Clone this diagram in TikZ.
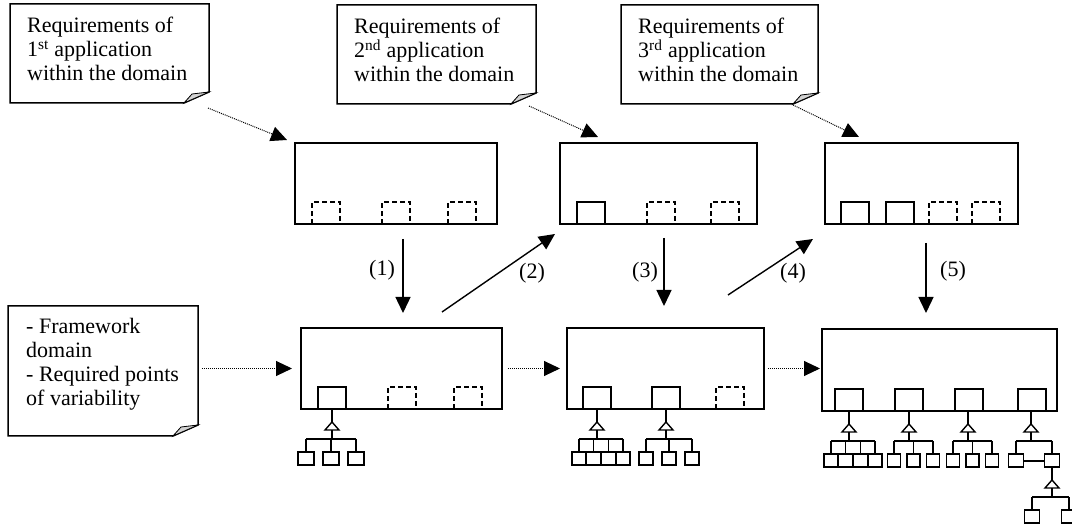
\documentclass[tikz,border=0pt]{standalone}
\usepackage{fontspec}
\setmainfont{Liberation Serif}
\usetikzlibrary{arrows.meta,positioning,calc}

\tikzset{
  notebox/.style={draw=none, anchor=north west, inner sep=0pt, outer sep=0pt},
  notetext/.style={anchor=north west, inner sep=0pt, align=left},
  noteline/.style={line width=1.5pt, line join=miter},
  stagebox/.style={draw, line width=1.7pt, anchor=north west, inner sep=0pt, outer sep=0pt},
  slotbox/.style={draw, line width=1.5pt},
  openslot/.style={slotbox, dash pattern=on 5pt off 3pt},
  treeline/.style={line width=1.4pt},
  flow/.style={-{Triangle[length=16pt,width=15pt]}, line width=1.4pt},
  feed/.style={flow, line width=1pt, dash pattern=on 1pt off 1pt},
  steplabel/.style={inner sep=0pt}
}

\begin{document}
\begin{tikzpicture}[x=1pt, y=-1pt, font=\fontsize{22}{24}\selectfont]
  \useasboundingbox (0,0) rectangle (1072,526);

  % notes
  \node[notebox, minimum width=199pt, minimum height=99pt] (r1) at (10,4) {};
  \node[notebox, minimum width=199pt, minimum height=99pt] (r2) at (337,5) {};
  \node[notebox, minimum width=197pt, minimum height=99pt] (r3) at (621,5) {};
  \node[notebox, minimum width=190pt, minimum height=130pt] (fw) at (8,306) {};
  \foreach \n in {r1,r2,r3,fw} {
    \draw[noteline] (\n.north west) -- (\n.north east) -- ([yshift=11pt]\n.south east)
      -- ([xshift=-25pt]\n.south east) -- (\n.south west) -- cycle;
    \draw[line width=0.8pt, fill=gray!35] ([xshift=-25pt]\n.south east)
      -- ([shift={(-17,-9)}]\n.south east) -- ([yshift=11pt]\n.south east) -- cycle;
  }
  \node[notetext] (r1t) at ([shift={(17,13)}]r1.north west)
    {Requirements of\\1\textsuperscript{st} application\\within the domain};
  \node[notetext] (r2t) at ([shift={(17,13)}]r2.north west)
    {Requirements of\\2\textsuperscript{nd} application\\within the domain};
  \node[notetext] (r3t) at ([shift={(17,13)}]r3.north west)
    {Requirements of\\3\textsuperscript{rd} application\\within the domain};
  \node[notetext] (fwt) at ([shift={(18,12)}]fw.north west)
    {- Framework\\domain\\- Required points\\of variability};

  % framework stages
  \node[stagebox, minimum width=202pt, minimum height=81pt] (t1) at (295,143) {};
  \node[stagebox, minimum width=197pt, minimum height=81pt] (t2) at (560,143) {};
  \node[stagebox, minimum width=193pt, minimum height=81pt] (t3) at (825,143) {};
  \node[stagebox, minimum width=201pt, minimum height=81pt] (b1) at (301,328) {};
  \node[stagebox, minimum width=197pt, minimum height=81pt] (b2) at (567,328) {};
  \node[stagebox, minimum width=235pt, minimum height=82pt] (b3) at (822,329) {};

  % hot spots
  \foreach \b/\dx/\s in {t1/17/openslot, t1/87/openslot, t1/153/openslot,
      t2/17/slotbox, t2/87/openslot, t2/151/openslot,
      t3/16/slotbox, t3/61/slotbox, t3/104/openslot, t3/147/openslot,
      b1/17/slotbox, b1/87/openslot, b1/153/openslot,
      b2/16/slotbox, b2/85/slotbox, b2/149/openslot,
      b3/13/slotbox, b3/73/slotbox, b3/133/slotbox, b3/196/slotbox}
    \draw[\s] ([xshift=\dx pt]\b.south west) rectangle ++(28,-22);

  % class trees
  \foreach \cx/\ty/\bl/\br/\nl/\lw in {332/409/306/356/3/16, 597/409/579/623/4/14,
      666/409/646/692/3/14, 849/411/831/875/4/14, 909/411/894/933/3/13,
      968/411/953/992/3/13, 1031/411/1016/1052/2/15, 1052/467/1032/1069/2/15} {
    \draw[treeline] (\cx,\ty) -- (\cx,\ty+13);
    \draw[treeline, fill=white] (\cx,\ty+13) -- (\cx-7,\ty+21) -- (\cx+7,\ty+21) -- cycle;
    \draw[treeline] (\cx,\ty+21) -- (\cx,\ty+30) (\bl,\ty+30) -- (\br,\ty+30);
    \foreach \k in {1,...,\nl} {
      \pgfmathsetmacro\lx{\bl+(\k-1)*(\br-\bl)/(\nl-1)}
      \draw[treeline] (\lx,\ty+30) -- (\lx,\ty+43);
      \draw[treeline, fill=white] (\lx-\lw/2,\ty+43) rectangle (\lx+\lw/2,\ty+56);
    }
  }
  \draw[treeline] (1023.5,461) -- (1044.5,461);

  % requirements feed in
  \draw[feed] ([shift={(-1,5)}]r1.south east) -- ([shift={(-8,-3)}]t1.north west);
  \draw[feed] ([shift={(-7,2)}]r2.south east) -- ([shift={(38,-6)}]t2.north west);
  \draw[feed] ([shift={(-25,1)}]r3.south east) -- ([shift={(34,-6)}]t3.north west);
  \draw[feed, shorten <=4pt, shorten >=9pt] (fw.east |- b1.west) -- (b1.west);
  \draw[feed, shorten <=6pt, shorten >=7pt] (b1.east) -- (b2.west);
  \draw[feed, shorten <=4pt, shorten >=2pt] (b2.east) -- (b2.east -| b3.west);

  % steps
  \draw[flow, shorten <=15pt, shorten >=15pt] ([xshift=7pt]t1.south) -- ([xshift=7pt]t1.south |- b1.north);
  \draw[flow] ([shift={(-60,-16)}]b1.north east) -- ([shift={(-5,10)}]t2.south west);
  \draw[flow, shorten <=14pt, shorten >=22pt] ([xshift=5.5pt]t2.south) -- ([xshift=5.5pt]t2.south |- b2.north);
  \draw[flow] ([shift={(-36,-33)}]b2.north east) -- ([shift={(-12,15)}]t3.south west);
  \draw[flow, shorten <=19pt, shorten >=16pt] ([xshift=4.5pt]t3.south) -- ([xshift=4.5pt]t3.south |- b3.north);
  \node[steplabel] (l1) at (382,270) {(1)};
  \node[steplabel] (l2) at (532,273) {(2)};
  \node[steplabel] (l3) at (645,272) {(3)};
  \node[steplabel] (l4) at (793,273) {(4)};
  \node[steplabel] (l5) at (953,271) {(5)};
\end{tikzpicture}
\end{document}
